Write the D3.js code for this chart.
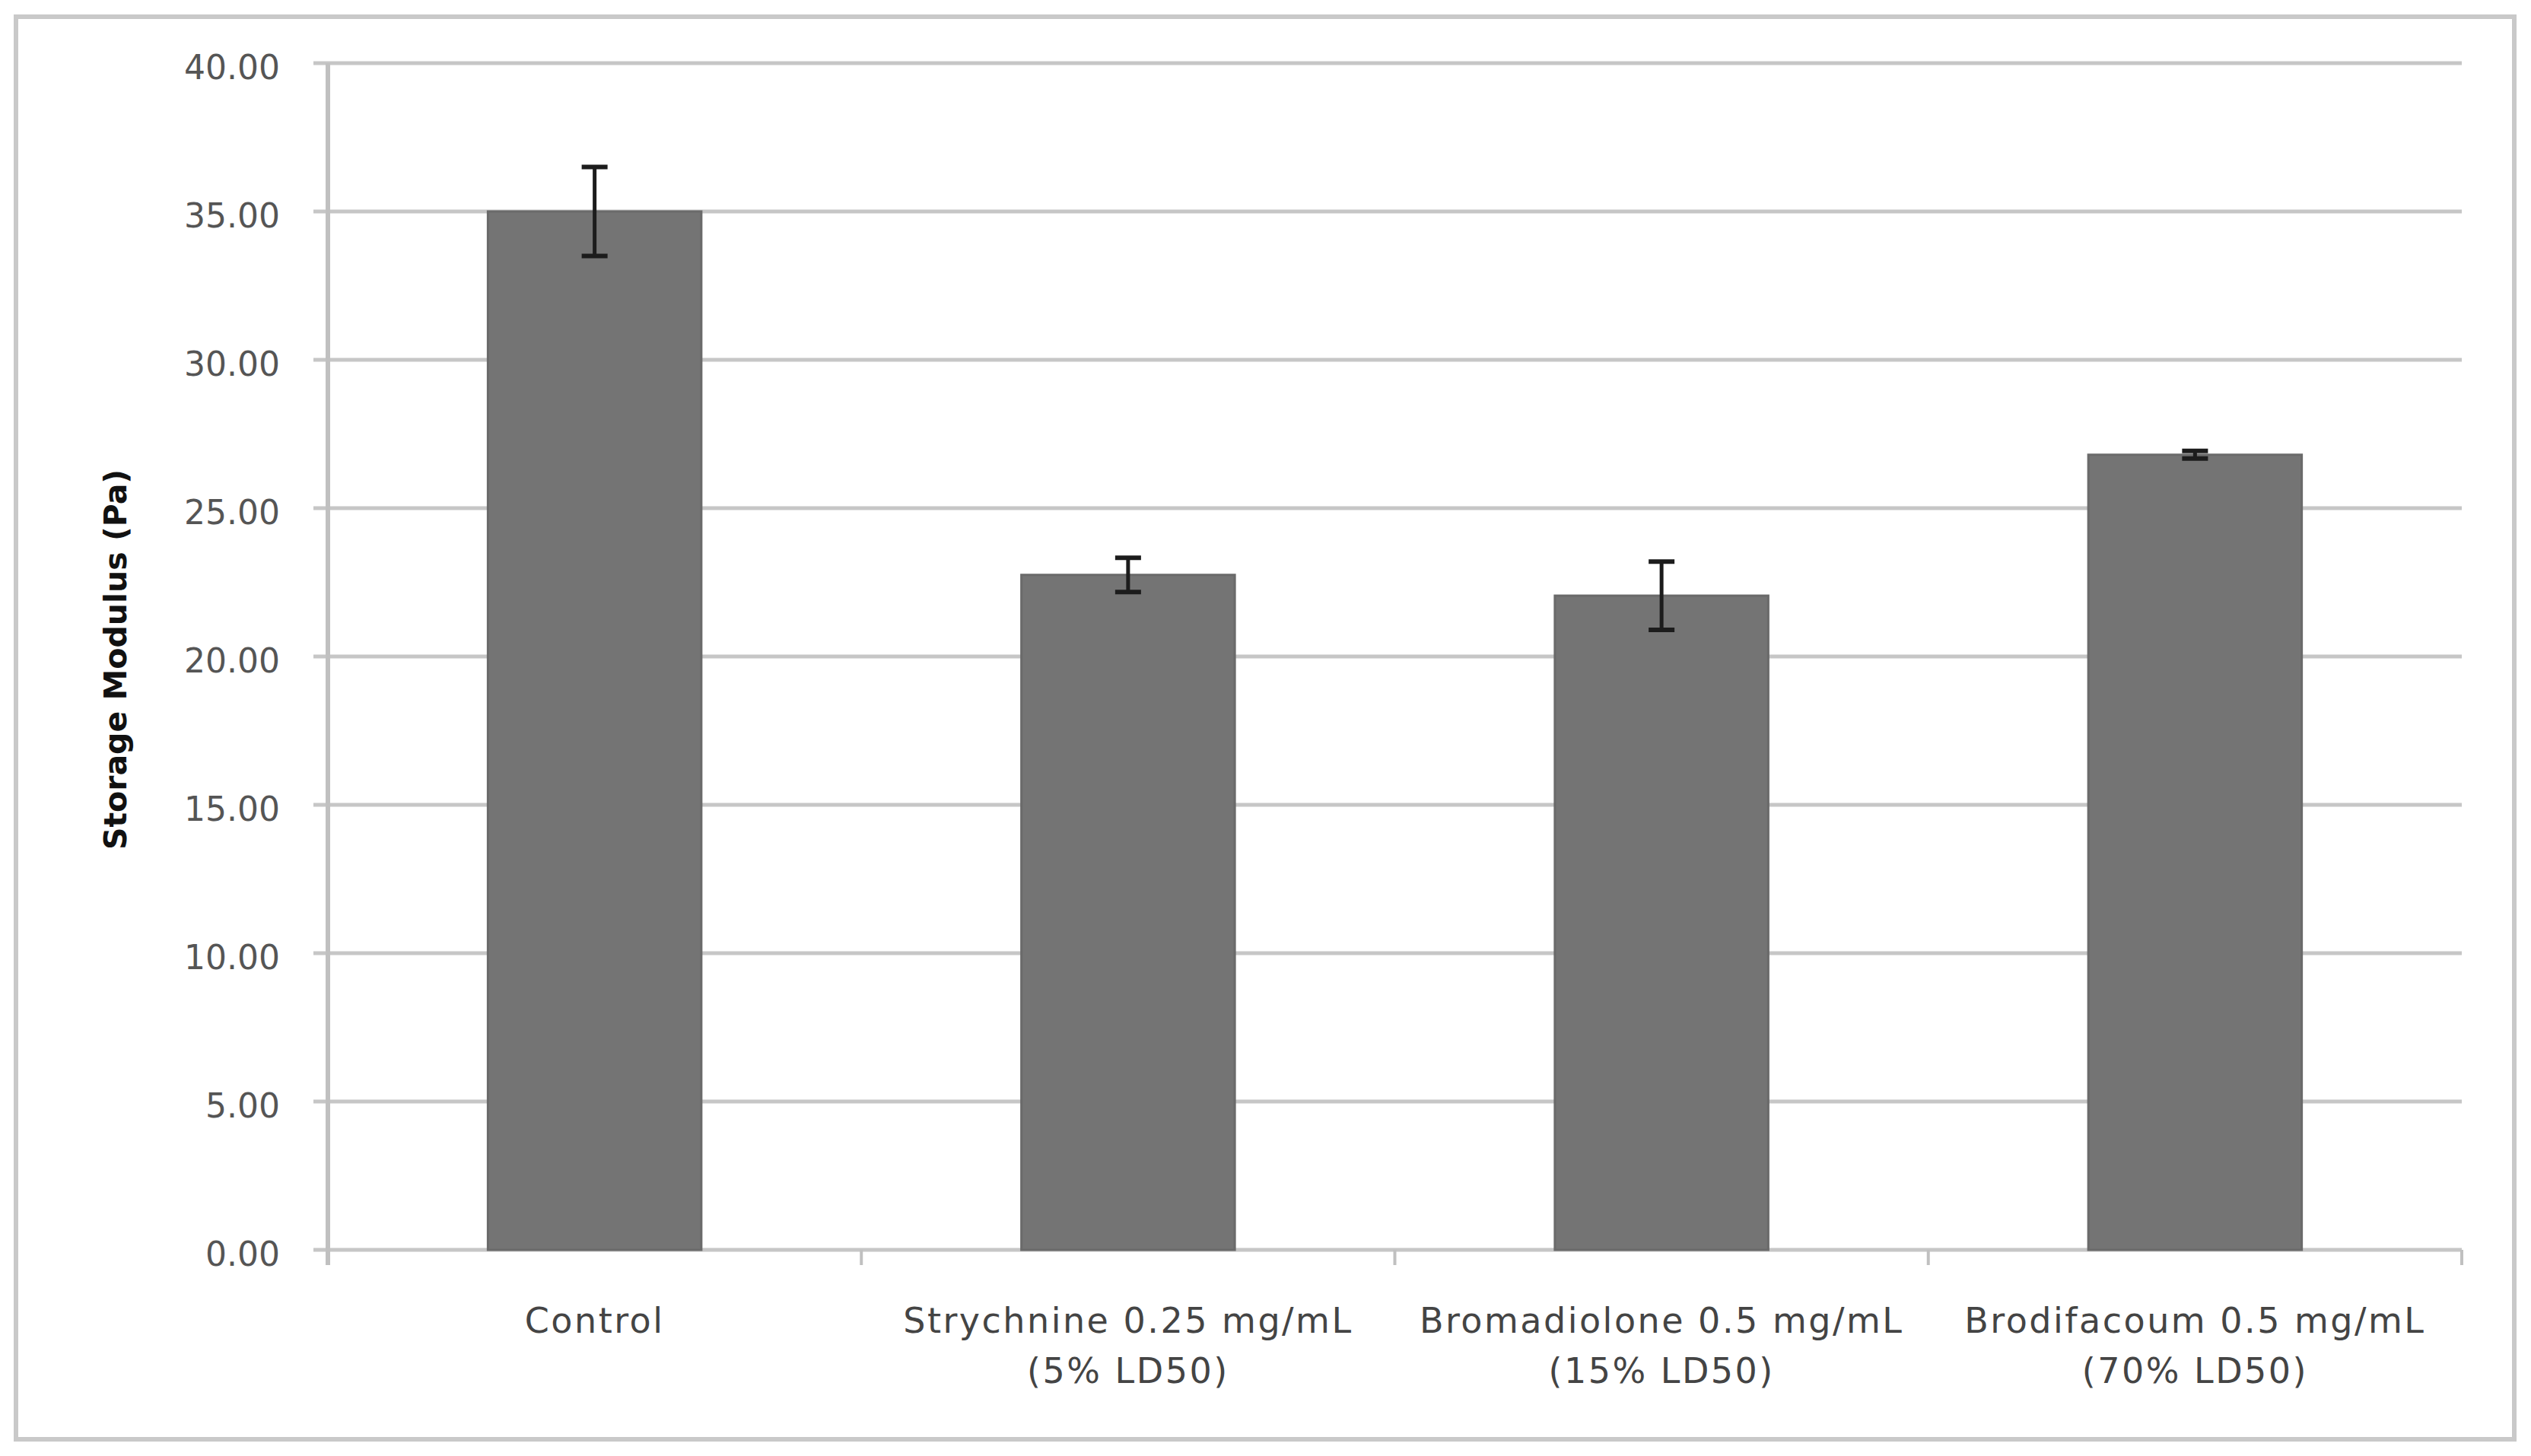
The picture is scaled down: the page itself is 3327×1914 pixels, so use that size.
<!DOCTYPE html>
<html>
<head>
<meta charset="utf-8">
<script src="https://cdn.jsdelivr.net/npm/d3@7"></script>
<style>
  html, body { margin: 0; padding: 0; background: #fff; }
  svg { display: block; }
</style>
</head>
<body>
<svg id="chart"></svg>
<script>
const width = 3327;
const height = 1914;

// data
const categories = ["Control", "Strychnine", "Bromadiolone", "Brodifacoum"];
const labelLines = [
  ["Control"],
  ["Strychnine 0.25 mg/mL", "(5% LD50)"],
  ["Bromadiolone 0.5 mg/mL", "(15% LD50)"],
  ["Brodifacoum 0.5 mg/mL", "(70% LD50)"]
];
const values = [35.0, 22.75, 22.05, 26.8];
const errors = [1.5, 0.58, 1.15, 0.13];
const yTicks = [0, 5, 10, 15, 20, 25, 30, 35, 40];

const margin = { left: 431, right: 3236, top: 83, bottom: 1643 };

const svg = d3.select("#chart")
  .attr("width", width)
  .attr("height", height)
  .attr("viewBox", [0, 0, width, height]);

svg.append("rect")
  .attr("width", width).attr("height", height)
  .attr("fill", "#fff");

// outer frame
svg.append("rect")
  .attr("x", 21).attr("y", 22)
  .attr("width", 3305 - 21).attr("height", 1892 - 22)
  .attr("fill", "none")
  .attr("stroke", "#c9c9c9")
  .attr("stroke-width", 6);

const x = d3.scaleBand()
  .domain(categories)
  .range([margin.left, margin.right])
  .paddingInner(0.6)
  .paddingOuter(0.3);

const y = d3.scaleLinear()
  .domain([0, 40])
  .range([margin.bottom, margin.top]);

// gridlines (they run past the axis as the left tick marks)
svg.append("g")
  .selectAll("line")
  .data(yTicks)
  .join("line")
  .attr("x1", margin.left - 19)
  .attr("x2", margin.right)
  .attr("y1", d => y(d))
  .attr("y2", d => y(d))
  .attr("stroke", "#c6c6c6")
  .attr("stroke-width", 5);

// y tick labels
svg.append("g")
  .selectAll("text")
  .data(yTicks)
  .join("text")
  .attr("x", 368)
  .attr("y", d => y(d) + 5)
  .attr("text-anchor", "end")
  .attr("dominant-baseline", "central")
  .attr("font-family", "DejaVu Sans")
  .attr("font-size", 44)
  .attr("fill", "#555")
  .text(d => d3.format(".2f")(d));

// y axis line
svg.append("line")
  .attr("x1", margin.left).attr("x2", margin.left)
  .attr("y1", margin.top).attr("y2", margin.bottom + 20)
  .attr("stroke", "#c0c0c0")
  .attr("stroke-width", 6);

// x axis category ticks
const step = x.step();
const bounds = d3.range(categories.length + 1).map(i => margin.left + i * step);
svg.append("g")
  .selectAll("line")
  .data(bounds.slice(1))
  .join("line")
  .attr("x1", d => d).attr("x2", d => d)
  .attr("y1", margin.bottom).attr("y2", margin.bottom + 20)
  .attr("stroke", "#c0c0c0")
  .attr("stroke-width", 4);

// bars
svg.append("g")
  .selectAll("rect")
  .data(values)
  .join("rect")
  .attr("x", (d, i) => x(categories[i]))
  .attr("y", d => y(d))
  .attr("width", x.bandwidth())
  .attr("height", d => y(0) - y(d))
  .attr("fill", "#747474")
  .attr("stroke", "#6a6a6a")
  .attr("stroke-width", 3);

// error bars
const err = svg.append("g")
  .attr("stroke", "#1c1c1c")
  .selectAll("g")
  .data(values)
  .join("g")
  .attr("transform", (d, i) => `translate(${x(categories[i]) + x.bandwidth() / 2},0)`);

err.append("line")
  .attr("y1", (d, i) => y(d + errors[i]))
  .attr("y2", (d, i) => y(d - errors[i]))
  .attr("stroke-width", 5);

err.selectAll("line.cap")
  .data((d, i) => [d + errors[i], d - errors[i]])
  .join("line")
  .attr("class", "cap")
  .attr("x1", -17).attr("x2", 17)
  .attr("y1", d => y(d)).attr("y2", d => y(d))
  .attr("stroke-width", 6);

// category labels
const lab = svg.append("g")
  .selectAll("text")
  .data(labelLines)
  .join("text")
  .attr("x", (d, i) => x(categories[i]) + x.bandwidth() / 2)
  .attr("y", 1752)
  .attr("text-anchor", "middle")
  .attr("font-family", "DejaVu Sans")
  .attr("font-size", 46)
  .attr("letter-spacing", 2.5)
  .attr("fill", "#444");

lab.selectAll("tspan")
  .data(d => d)
  .join("tspan")
  .attr("x", function () { return this.parentNode.getAttribute("x"); })
  .attr("dy", (d, i) => i === 0 ? 0 : 66)
  .text(d => d);

// y axis title
svg.append("text")
  .attr("transform", "translate(152,867) rotate(-90)")
  .attr("text-anchor", "middle")
  .attr("dominant-baseline", "central")
  .attr("font-family", "DejaVu Sans")
  .attr("font-weight", "bold")
  .attr("font-size", 41)
  .attr("fill", "#111")
  .text("Storage Modulus (Pa)");
</script>
</body>
</html>
